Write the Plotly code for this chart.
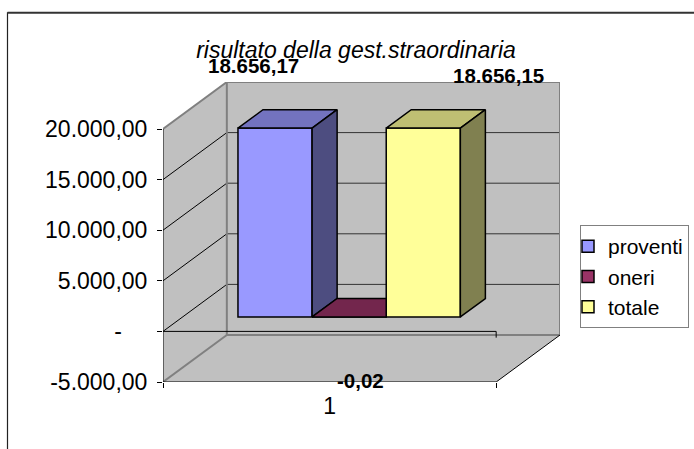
import plotly.graph_objects as go

# ---- data ----
series_names = ["proventi", "oneri", "totale"]
series_values = [18656.17, -0.02, 18656.15]
category_labels = ["1"]
y_ticks = [-5000, 0, 5000, 10000, 15000, 20000]
y_tick_labels = ["-5.000,00", "-\u00a0\u00a0\u00a0\u00a0", "5.000,00", "10.000,00", "15.000,00", "20.000,00"]
title_text = "risultato della gest.straordinaria"

# ---- styles ----
front_colors = ["#9999FF", "#993366", "#FFFF99"]
top_colors = ["#7373BF", "#73264D", "#BFBF73"]
side_colors = ["#4D4D80", "#4D1A33", "#808050"]
FONT = "Liberation Sans"
W, H = 694, 449
# oblique projection: depth 0..1 shifts along the category axis and value axis
DX, DY = 0.1916, 4644
D0, D1 = 0.308, 0.70
BAR_W = 0.2225
BAR_START = 0.166
YMIN, YMAX = min(y_ticks), max(y_ticks)


def fmt(v):
    s = f"{abs(v):,.2f}".replace(",", "X").replace(".", ",").replace("X", ".")
    return ("-" if v < 0 else "") + s


def p(x, v, d):
    return x + d * DX, v + d * DY


fig = go.Figure()
shapes = []


def poly(pts, fill):
    path = "M" + "L".join(f"{a},{b}" for a, b in pts) + "Z"
    shapes.append(dict(type="path", path=path, xref="x", yref="y", layer="below",
                       fillcolor=fill, line=dict(color=fill, width=0)))


def seg(a, b, color="#000000", width=1):
    shapes.append(dict(type="line", xref="x", yref="y", layer="below",
                       x0=a[0], y0=a[1], x1=b[0], y1=b[1],
                       line=dict(color=color, width=width)))


# walls and floor
WALL = "#C0C0C0"
EDGE = "#808080"
poly([p(0, YMIN, 0), p(0, YMAX, 0), p(0, YMAX, 1), p(0, YMIN, 1)], WALL)
poly([p(0, YMIN, 1), p(0, YMAX, 1), p(1, YMAX, 1), p(1, YMIN, 1)], WALL)
poly([p(0, YMIN, 0), p(1, YMIN, 0), p(1, YMIN, 1), p(0, YMIN, 1)], WALL)
for t in y_ticks[1:-1]:
    seg(p(0, t, 0), p(0, t, 1), "#000000", 1)
    seg(p(0, t, 1), p(1, t, 1), "#333333", 1)
seg(p(0, YMIN, 1), p(1, YMIN, 1), EDGE, 2)
seg(p(0, YMIN, 1), p(0, YMAX, 1), EDGE, 2)
seg(p(1, YMIN, 1), p(1, YMAX, 1), EDGE, 2)
seg(p(0, YMAX, 1), p(1, YMAX, 1), EDGE, 2)
seg(p(0, YMAX, 0), p(0, YMAX, 1), EDGE, 2)
seg(p(0, YMIN, 0), p(0, YMIN, 1), EDGE, 2)
# axes
seg(p(0, YMIN, 0), p(0, YMAX, 0), "#000000", 1)
seg(p(0, YMIN, 0), p(1, YMIN, 0), "#000000", 1)
seg(p(1, YMIN, 0), p(1, YMIN, 1), "#000000", 1)
seg(p(0, 0, 0), p(1, 0, 0), "#000000", 1)
seg(p(1, 0, 0), (1, -620), "#000000", 1)


# page pixels to paper coordinates
def px(x):
    return (x - 163) / (560 - 163)


def py(y):
    return (382 - y) / (382 - 81.7)


# chart frame
shapes.append(dict(type="line", xref="paper", yref="paper", x0=px(7.5), x1=px(7.5), y0=py(449), y1=py(12),
                   line=dict(color="#222222", width=1.2)))
shapes.append(dict(type="line", xref="paper", yref="paper", x0=px(7.5), x1=px(694), y0=py(12.5), y1=py(12.5),
                   line=dict(color="#333333", width=2)))

# bar fronts
lefts = [BAR_START + i * BAR_W + D0 * DX for i in range(3)]
for name, v, left, c in zip(series_names, series_values, lefts, front_colors):
    fig.add_trace(go.Bar(name=name, x=[left + BAR_W / 2], y=[v], base=[D0 * DY], width=[BAR_W],
                         marker=dict(color=c, line=dict(color="#000000", width=1.5)),
                         hoverinfo="skip"))


def face(pts, color):
    xs = [a for a, _ in pts] + [pts[0][0]]
    ys = [b for _, b in pts] + [pts[0][1]]
    fig.add_trace(go.Scatter(x=xs, y=ys, mode="lines", fill="toself", fillcolor=color,
                             line=dict(color="#000000", width=1.5), showlegend=False, hoverinfo="skip"))


# bar tops and sides
for i, v in enumerate(series_values):
    x0 = BAR_START + i * BAR_W
    x1 = x0 + BAR_W
    if i == 1:
        # flat bar: only the part not hidden by the next bar's front is visible
        xr = x1 + D0 * DX
        face([p(x0, 0, D0), p(x0, 0, D1), (xr, D1 * DY), (xr, D0 * DY)], top_colors[i])
        continue
    face([p(x0, v, D0), p(x1, v, D0), p(x1, v, D1), p(x0, v, D1)], top_colors[i])
    face([p(x1, 0, D0), p(x1, v, D0), p(x1, v, D1), p(x1, 0, D1)], side_colors[i])

# value labels
label_pos = [(253, 65), (360, 380), (498, 75)]
annotations = [
    dict(text=fmt(v), xref="paper", yref="paper", x=px(a), y=py(b), xanchor="center", yanchor="middle",
         showarrow=False, font=dict(family=FONT, size=20.5, color="#000000", weight=700))
    for v, (a, b) in zip(series_values, label_pos)
]

fig.update_layout(
    width=W, height=H, autosize=False,
    margin=dict(l=163, r=W - 560, t=81.7, b=H - 382, pad=0),
    paper_bgcolor="#FFFFFF", plot_bgcolor="rgba(0,0,0,0)",
    barmode="overlay",
    font=dict(family=FONT, size=23, color="#000000"),
    title=dict(text=title_text, x=356 / W, xanchor="center", y=1 - 50 / H, yanchor="middle",
               font=dict(family=FONT, size=23, color="#000000", style="italic")),
    xaxis=dict(range=[0, 1 + DX], tickmode="array", tickvals=[0.5], ticktext=category_labels,
               ticks="outside", ticklen=3, tickcolor="rgba(0,0,0,0)", ticklabelstandoff=0,
               showgrid=False, zeroline=False, showline=False, tickfont=dict(size=23),
               minor=dict(tickmode="array", tickvals=[0, 1], ticks="outside", ticklen=5, tickcolor="#000000", showgrid=False)),
    yaxis=dict(range=[YMIN, YMAX + DY], tickmode="array", tickvals=y_ticks, ticktext=y_tick_labels,
               ticks="outside", ticklen=5, tickcolor="#000000", ticklabelstandoff=5,
               showgrid=False, zeroline=False, showline=False, tickfont=dict(size=23)),
    legend=dict(xref="container", yref="container", x=580 / W, y=1 - 225 / H, xanchor="left", yanchor="top",
                bgcolor="#FFFFFF", bordercolor="#808080", borderwidth=1, font=dict(family=FONT, size=21),
                indentation=-13, traceorder="normal"),
    shapes=shapes, annotations=annotations,
)

fig.write_html("out.html", config={"displayModeBar": False}, post_script="document.body.style.margin='0';")
